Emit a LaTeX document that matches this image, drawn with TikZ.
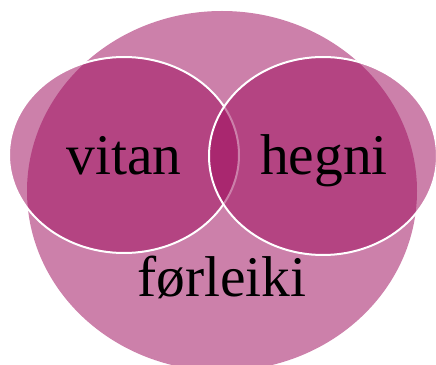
\documentclass[tikz,border=0pt]{standalone}
\usepackage{fontspec}
\setmainfont{Liberation Serif}
\definecolor{venn}{RGB}{159,15,95}
\tikzset{blob/.style={fill=venn,fill opacity=0.53},
  ring/.style={blob,draw=white,line width=2pt}}

\begin{document}
\begin{tikzpicture}[x=1pt,y=1pt,font={\fontsize{57.5}{60}\selectfont}]
\useasboundingbox (0,0) rectangle (436,364);
\fill[blob] (222,173) ellipse (195pt and 180pt);
\draw[ring] (124,209) ellipse (115pt and 98pt);
\draw[ring] (323,208) ellipse (114pt and 99pt);

\foreach \name/\word/\x/\y in
  {vitan/vitan/124/189,hegni/hegni/324/189,forleiki/førleiki/222/67}
  \node[anchor=base,inner sep=0pt] (\name) at (\x,\y) {\word};
\end{tikzpicture}
\end{document}
